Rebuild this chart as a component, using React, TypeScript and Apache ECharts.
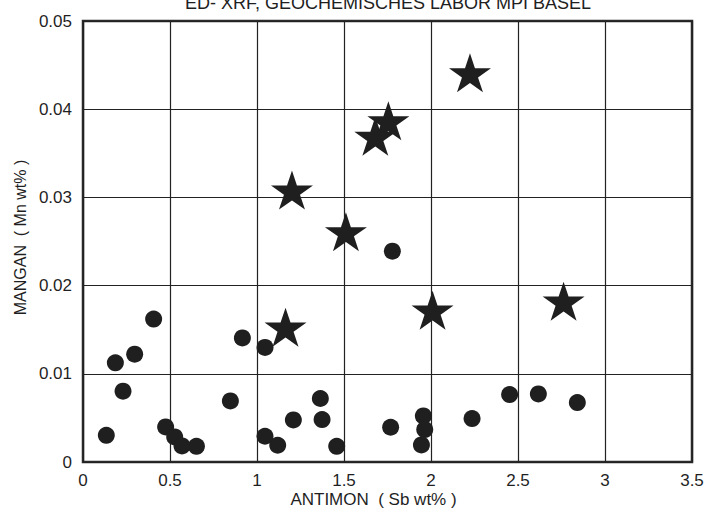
import React, { useEffect, useRef } from "react";
import * as echarts from "echarts";

const TITLE = "ED- XRF, GEOCHEMISCHES LABOR MPI BASEL";
const X_NAME = "ANTIMON  ( Sb wt% )";
const Y_NAME = "MANGAN  ( Mn wt% )";

// Circles: [Sb wt%, Mn wt%]
const circlePoints: number[][] = [
  [0.134, 0.00303],
  [0.186, 0.01124],
  [0.23, 0.00803],
  [0.297, 0.01222],
  [0.406, 0.0162],
  [0.475, 0.00397],
  [0.527, 0.00284],
  [0.569, 0.00182],
  [0.652, 0.00178],
  [0.847, 0.00692],
  [0.916, 0.01407],
  [1.046, 0.01299],
  [1.046, 0.00292],
  [1.119, 0.0019],
  [1.209, 0.00477],
  [1.364, 0.0072],
  [1.374, 0.00481],
  [1.458, 0.00178],
  [1.778, 0.0239],
  [1.768, 0.00394],
  [1.956, 0.00522],
  [1.964, 0.00368],
  [1.945, 0.00193],
  [2.236, 0.00493],
  [2.452, 0.00765],
  [2.617, 0.00772],
  [2.841, 0.00674],
];

// Stars: [Sb wt%, Mn wt%]
const starPoints: number[][] = [
  [2.224, 0.0439],
  [1.755, 0.03845],
  [1.68, 0.0367],
  [1.201, 0.0306],
  [1.511, 0.02588],
  [2.009, 0.01699],
  [1.164, 0.01506],
  [2.762, 0.01801],
];

const STAR_PATH =
  "path://M50 0 L61.23 34.55 L97.55 34.55 L68.17 55.9 L79.39 90.45 L50 69.1 L20.61 90.45 L31.83 55.9 L2.45 34.55 L38.77 34.55 Z";

const INK = "#1f1f1f";
const FONT = "'Liberation Sans', Arial, Helvetica, sans-serif";

export default function App() {
  const ref = useRef<HTMLDivElement>(null);
  useEffect(() => {
    if (!ref.current) return;
    const chart = echarts.init(ref.current, undefined, { renderer: "svg" });
    chart.setOption({
      animation: false,
      backgroundColor: "#ffffff",
      textStyle: { fontFamily: FONT },
      graphic: [
        {
          type: "text",
          x: 388,
          y: 3,
          style: {
            text: TITLE,
            font: `18px ${FONT}`,
            fill: INK,
            textAlign: "center",
            textVerticalAlign: "middle",
          },
        },
      ],
      grid: {
        left: 83,
        right: 25,
        top: 21,
        bottom: 49,
        outerBoundsMode: "none",
        containLabel: false,
        show: true,
        borderColor: "#2a2a2a",
        borderWidth: 2.5,
        backgroundColor: "transparent",
      },
      xAxis: {
        type: "value",
        min: 0,
        max: 3.5,
        interval: 0.5,
        name: X_NAME,
        nameLocation: "middle",
        nameGap: 29,
        nameMoveOverlap: false,
        nameTextStyle: {
          fontSize: 17,
          color: INK,
          fontFamily: FONT,
          padding: [0, 28, 0, 0],
        },
        axisLine: { show: false },
        axisTick: { show: false },
        axisLabel: {
          fontSize: 17,
          color: INK,
          margin: 10,
          fontFamily: FONT,
          formatter: (v: number) => String(+v.toFixed(2)),
        },
        splitLine: { show: true, lineStyle: { color: "#222", width: 1.2 } },
      },
      yAxis: {
        type: "value",
        min: 0,
        max: 0.05,
        interval: 0.01,
        name: Y_NAME,
        nameLocation: "middle",
        nameGap: 55,
        nameMoveOverlap: false,
        nameTextStyle: {
          fontSize: 16,
          color: INK,
          fontFamily: FONT,
          padding: [0, 0, 0, 8],
        },
        axisLine: { show: false },
        axisTick: { show: false },
        axisLabel: {
          fontSize: 17,
          color: INK,
          margin: 11,
          fontFamily: FONT,
          formatter: (v: number) => String(+v.toFixed(2)),
        },
        splitLine: { show: true, lineStyle: { color: "#222", width: 1.2 } },
      },
      series: [
        {
          type: "scatter",
          data: circlePoints,
          symbol: "circle",
          symbolSize: 17,
          itemStyle: { color: INK, opacity: 1 },
          silent: true,
        },
        {
          type: "scatter",
          data: starPoints,
          symbol: STAR_PATH,
          symbolSize: [42, 39],
          symbolOffset: [0, -2],
          itemStyle: { color: INK, opacity: 1 },
          silent: true,
        },
      ],
    });
    return () => chart.dispose();
  }, []);
  return (
    <div
      ref={ref}
      style={{ position: "absolute", left: 0, top: 0, width: 717, height: 511 }}
    />
  );
}
